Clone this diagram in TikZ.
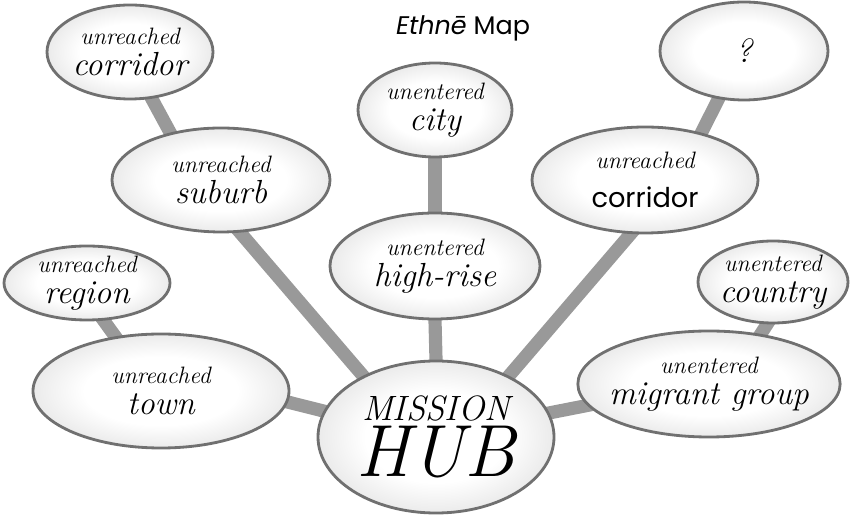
\documentclass[tikz,border=0pt]{standalone}
\usepackage{fontspec}
\newfontfamily\geofont{Poppins}
\usetikzlibrary{shapes.geometric,backgrounds}
\newcommand\hand{\normalfont\itshape}
\newcommand\smallhand{\fontsize{13.5}{18}\selectfont\hand}
\newcommand\bighand{\fontsize{19}{18}\selectfont\hand}
\pgfdeclareradialshading{bubbleshade}{\pgfpoint{0bp}{0bp}}{color(0bp)=(white); color(15bp)=(white); color(25bp)=(black!8); color(50bp)=(black!8)}

\begin{document}
\begin{tikzpicture}[
	bubble/.style 2 args={ellipse, draw=black!56, line width=1.6pt, shading=bubbleshade, minimum width=#1, minimum height=#2, inner sep=-4pt, align=center, font=\smallhand},
	link/.style={line width=7.5pt, draw=black!40, shorten <=-3pt, shorten >=-3pt}]
	\useasboundingbox (0,0) rectangle (17.3,10.34);
	% title
	\node (title) at (9.26,9.78) {\geofont\fontsize{14.5}{16}\selectfont\itshape Ethnē\upshape{} Map};
	% the hub
	\node[bubble={4.72cm}{3.04cm}, font=\fontsize{20}{32}\selectfont\hand] (hub) at (8.72,1.60) {MISSION\\{\fontsize{42}{32}\selectfont HUB}};
	% left side
	\node[bubble={5.12cm}{2.28cm}] (town) at (3.22,2.52) {unreached\\{\bighand town}};
	\node[bubble={3.32cm}{1.48cm}] (region) at (1.74,4.68) {unreached\\{\bighand region}};
	\node[bubble={4.36cm}{2.08cm}] (suburb) at (4.42,6.74) {unreached\\{\bighand suburb}};
	\node[bubble={3.32cm}{1.88cm}] (corrL) at (2.60,9.30) {unreached\\{\bighand corridor}};
	% middle
	\node[bubble={4.2cm}{2.12cm}] (high) at (8.70,5.02) {unentered\\{\bighand high-rise}};
	\node[bubble={3.08cm}{1.88cm}] (city) at (8.70,8.14) {unentered\\{\bighand city}};
	% right side
	\node[bubble={4.52cm}{2.12cm}, font=\fontsize{13.5}{22}\selectfont\hand] (corrR) at (12.90,6.74) {unreached\\{\geofont\upshape\fontsize{15.5}{22}\selectfont corridor}};
	\node[bubble={3.36cm}{1.96cm}, font=\fontsize{19}{20}\selectfont\hand] (qmark) at (14.88,9.32) {?};
	\node[bubble={5.16cm}{2.12cm}] (migrant) at (14.18,2.66) {unentered\\{\bighand migrant group}};
	\node[bubble={3.0cm}{1.64cm}] (country) at (15.46,4.70) {unentered\\{\bighand country}};
	% links
	\begin{scope}[on background layer]
		\draw[link] (hub.167) -- (town.355);
		\draw[link] (town.130) -- (region.294);
		\draw[link] (hub.140) -- (suburb.290);
		\draw[link] (suburb.137) -- (corrL.295);
		\draw[link] (hub.90) -- (high.270);
		\draw[link] (high.90) -- (city.270);
		\draw[link] (hub.40) -- (corrR.255);
		\draw[link] (corrR.40) -- (qmark.242);
		\draw[link] (hub.12) -- (migrant.190);
		\draw[link] (migrant.44) -- (country.262);
	\end{scope}
\end{tikzpicture}
\end{document}
